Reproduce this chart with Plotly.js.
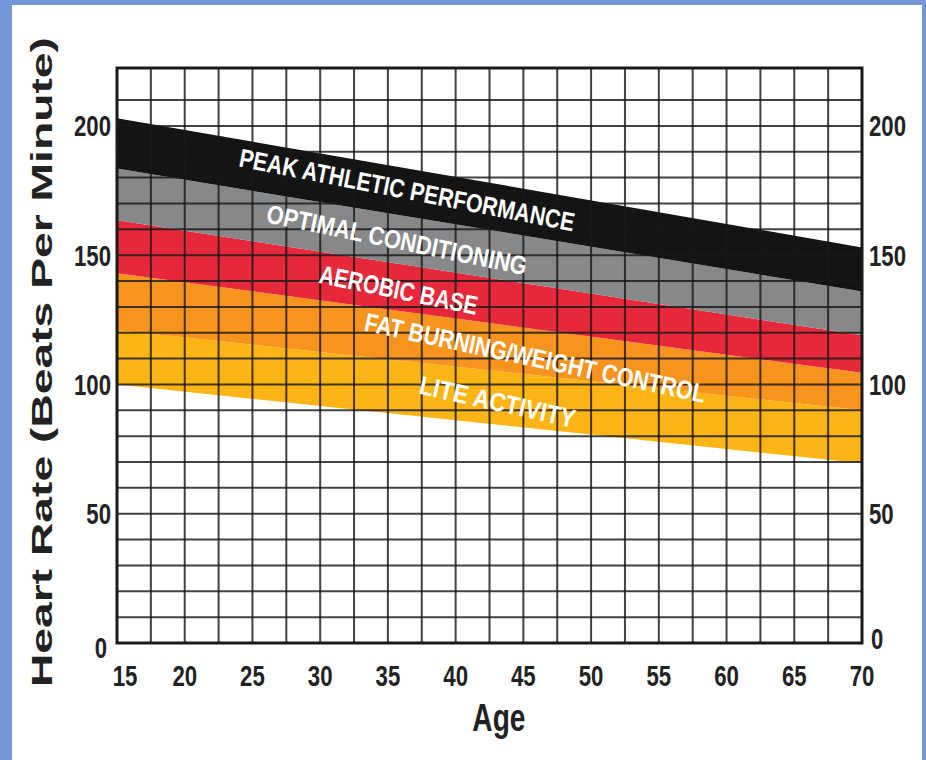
<!DOCTYPE html>
<html>
<head>
<meta charset="utf-8">
<script src="https://cdn.plot.ly/plotly-3.0.1.min.js"></script>
<style>
  html, body { margin: 0; padding: 0; background: #7396d8; width: 926px; height: 760px; overflow: hidden; }
  #chart { position: absolute; left: 12px; top: 5px; width: 910px; height: 755px; background: #ffffff; }
</style>
</head>
<body>
<div id="chart"></div>
<script>
// ---- data ----
const ages = [15, 70];
const peakTop = [203, 153];
const peakBottom = [183.5, 136];
const optimalBottom = [163.5, 119];
const aerobicBottom = [143, 104.5];
const fatBurnBottom = [121, 90];
const liteBottom = [100, 69.5];

const xTickVals = [15, 20, 25, 30, 35, 40, 45, 50, 55, 60, 65, 70];
const yTickVals = [0, 50, 100, 150, 200];
const xGridStep = 2.5;
const yGridStep = 10;

const zoneNames = ['PEAK ATHLETIC PERFORMANCE', 'OPTIMAL CONDITIONING', 'AEROBIC BASE',
                   'FAT BURNING/WEIGHT CONTROL', 'LITE ACTIVITY'];

const sans = '"Liberation Sans", Arial, Helvetica, sans-serif';

function band(y, color, name) {
  return { x: ages, y: y, type: 'scatter', mode: 'lines',
           line: { width: 0, color: 'rgba(0,0,0,0)' },
           fill: color ? 'tonexty' : 'none',
           fillcolor: color, name: name, hoverinfo: 'skip', showlegend: false };
}

const traces = [
  band(liteBottom, null, 'base'),
  band(fatBurnBottom, '#fcb514', zoneNames[4]),
  band(aerobicBottom, '#f7941d', zoneNames[3]),
  band(optimalBottom, '#e6283a', zoneNames[2]),
  band(peakBottom, '#87888a', zoneNames[1]),
  band(peakTop, '#141414', zoneNames[0]),
  { x: ages, y: [0, 0], yaxis: 'y2', type: 'scatter', mode: 'lines',
    line: { width: 0, color: 'rgba(0,0,0,0)' }, hoverinfo: 'skip', showlegend: false }
];

const yMax = 222.4;
const shapes = [];
const gridLine = { color: 'rgba(25,25,25,0.82)', width: 2 };
for (let a = ages[0] + xGridStep; a < ages[1] - 0.01; a += xGridStep) {
  shapes.push({ type: 'line', xref: 'x', yref: 'paper', x0: a, x1: a, y0: 0, y1: 1, line: gridLine, layer: 'above' });
}
for (let h = yGridStep; h < 220; h += yGridStep) {
  shapes.push({ type: 'line', xref: 'paper', yref: 'y', x0: 0, x1: 1, y0: h, y1: h, line: gridLine, layer: 'above' });
}
shapes.push({ type: 'rect', xref: 'paper', yref: 'paper', x0: 0, x1: 1, y0: 0, y1: 1,
              line: { color: '#1a1a1a', width: 3 }, layer: 'above' });

const labelFont = { family: sans, size: 26, color: '#ffffff', weight: 'bold' };
const zoneLabels = [
  { text: zoneNames[0], x: 36.4, y: 175.2, textangle: 11 },
  { text: zoneNames[1], x: 35.7, y: 155.9, textangle: 11.5 },
  { text: zoneNames[2], x: 35.8, y: 136.6, textangle: 11.5 },
  { text: zoneNames[3], x: 45.9, y: 110.3, textangle: 12 },
  { text: zoneNames[4], x: 43.1, y: 93.2, textangle: 12.5 }
];
// target lengths (px) of the zone labels along their baseline
const zoneLabelLengths = [341, 265, 161, 348, 159];

const annotations = zoneLabels.map(a => Object.assign({ xref: 'x', yref: 'y', showarrow: false, font: labelFont }, a));

annotations.push({ text: 'Heart Rate (Beats Per Minute)', xref: 'paper', yref: 'paper',
  x: -0.1007, y: 0.4887, xanchor: 'center', yanchor: 'middle', textangle: -90, showarrow: false,
  font: { family: sans, size: 30, color: '#222222', weight: 'bold' } });
annotations.push({ text: 'Age', xref: 'paper', yref: 'paper', x: 0.5128, y: -0.1304,
  xanchor: 'center', yanchor: 'middle', showarrow: false,
  font: { family: sans, size: 38, color: '#222222', weight: 'bold' } });

const tickFont = { family: sans, size: 30, color: '#222222', weight: 'bold' };

const layout = {
  width: 910, height: 755,
  margin: { l: 105, r: 60, t: 63, b: 117 },
  paper_bgcolor: '#ffffff', plot_bgcolor: '#ffffff',
  showlegend: false,
  xaxis: { range: [15, 70], tickvals: xTickVals, showgrid: false, zeroline: false,
           ticks: '', tickfont: tickFont, ticklabelstandoff: 12, fixedrange: true },
  yaxis: { range: [0, yMax], tickvals: yTickVals, showgrid: false, zeroline: false,
           ticks: '', tickfont: tickFont, ticklabelstandoff: 5, fixedrange: true },
  yaxis2: { range: [0, yMax], tickvals: yTickVals, overlaying: 'y', side: 'right', showgrid: false,
            zeroline: false, ticks: '', tickfont: tickFont, ticklabelstandoff: 6, fixedrange: true },
  shapes: shapes,
  annotations: annotations
};

function squeezeText(t, length) {
  t.setAttribute('textLength', length.toFixed(1));
  t.setAttribute('lengthAdjust', 'spacingAndGlyphs');
}
function nudge(t, dx, dy) {
  t.setAttribute('transform', ((t.getAttribute('transform') || '') + ' translate(' + dx + ',' + dy + ')').trim());
}

Plotly.newPlot('chart', traces, layout, { displayModeBar: false, staticPlot: true }).then(function () {
  // condensed look: narrow the tick labels
  document.querySelectorAll('#chart g.xtick text, #chart g.ytick text, #chart g.y2tick text').forEach(function (t) {
    squeezeText(t, t.getComputedTextLength() * 0.74);
  });
  // as in the reference: first age label sits a little right, right-hand "0" a little up
  document.querySelectorAll('#chart g.xtick text').forEach(function (t) {
    if (t.textContent === String(xTickVals[0])) nudge(t, 8, 0);
  });
  document.querySelectorAll('#chart g.y2tick text').forEach(function (t) {
    if (t.textContent === '0') nudge(t, 2, -5);
  });
  document.querySelectorAll('#chart g.ytick text').forEach(function (t) {
    if (t.textContent === '0') nudge(t, -4, 4);
  });
  document.querySelectorAll('#chart .annotation-text').forEach(function (t) {
    const s = t.textContent;
    const i = zoneNames.indexOf(s);
    if (i >= 0) squeezeText(t, zoneLabelLengths[i]);
    else if (s.indexOf('Heart Rate') === 0) squeezeText(t, 650);
    else if (s === 'Age') squeezeText(t, t.getComputedTextLength() * 0.74);
  });
});
</script>
</body>
</html>
